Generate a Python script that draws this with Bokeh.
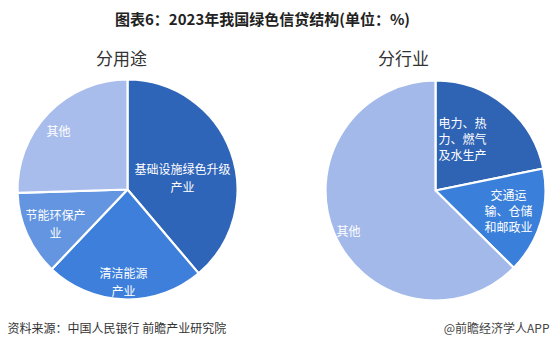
import numpy as np
from bokeh.plotting import figure
from bokeh.models import Range1d, ColumnDataSource
from bokeh.core.properties import value
from bokeh.embed import file_html
from bokeh.resources import INLINE

# ---- data ----
use_labels = ["基础设施绿色升级\n产业", "清洁能源\n产业", "节能环保产\n业", "其他"]
use_values = [38.8, 23.3, 12.4, 25.5]
ind_labels = ["电力、热\n力、燃气\n及水生产", "交通运\n输、仓储\n和邮政业", "其他"]
ind_values = [21.8, 15.6, 62.6]

title = "图表6：2023年我国绿色信贷结构(单位：%)"
sub_use = "分用途"
sub_ind = "分行业"
source_txt = "资料来源：中国人民银行 前瞻产业研究院"
brand_txt = "@前瞻经济学人APP"

W, H = 553, 354
FONT = "Noto Sans CJK SC"

p = figure(width=W, height=H, output_backend="svg", toolbar_location=None,
           x_range=Range1d(0, W), y_range=Range1d(0, H), min_border=0)
p.axis.visible = False
p.grid.visible = False
p.outline_line_color = None
p.background_fill_color = "white"
p.border_fill_color = "white"


def Y(y):
    return H - y


def pie(cx, cy, r, values, colors, labels, label_pos, lh):
    v = np.array(values, dtype=float)
    frac = v / v.sum()
    ends = np.cumsum(frac) * 2 * np.pi
    starts = np.concatenate([[0.0], ends[:-1]])
    # clockwise from 12 o'clock
    start_a = np.pi / 2 - starts
    end_a = np.pi / 2 - ends
    src = ColumnDataSource(dict(x=[cx] * len(v), y=[Y(cy)] * len(v),
                                s=list(start_a), e=list(end_a), c=colors))
    p.wedge(x="x", y="y", radius=r, start_angle="s", end_angle="e",
            direction="clock", fill_color="c", line_color="white",
            line_width=2.2, source=src)
    lx = [q[0] for q in label_pos]
    ly = [Y(q[1]) for q in label_pos]
    p.text(x=lx, y=ly, text=labels, text_color="white",
           text_font=value(FONT), text_font_size="12px",
           text_align="center", text_baseline="middle", text_line_height=lh)


pie(127, 189, 110, use_values,
    ["#2f65b8", "#3d7fdb", "#6495e0", "#a8bdec"],
    use_labels, [(182, 177), (123, 281), (55, 223), (58, 130)], 1.05)

pie(435, 190, 110, ind_values,
    ["#2f64b5", "#3a80da", "#a3b9ea"],
    ind_labels, [(462, 138), (508, 210), (348, 230)], 0.92)

# titles
p.text(x=[262], y=[Y(18)], text=[title], text_font=value(FONT),
       text_font_style="bold", text_font_size="15px", text_color="#222222",
       text_align="center", text_baseline="middle")
p.text(x=[121, 403], y=[Y(57), Y(57)], text=[sub_use, sub_ind],
       text_font=value(FONT), text_font_size="17px", text_color="#333333",
       text_align="center", text_baseline="middle")

# footer
p.text(x=[7], y=[Y(327)], text=[source_txt], text_font=value(FONT),
       text_font_size="12px", text_color="#333333",
       text_align="left", text_baseline="middle")
p.text(x=[549], y=[Y(327)], text=[brand_txt], text_font=value(FONT),
       text_font_size="12px", text_color="#444444",
       text_align="right", text_baseline="middle")

open("out.html", "w").write(file_html(p, INLINE))
